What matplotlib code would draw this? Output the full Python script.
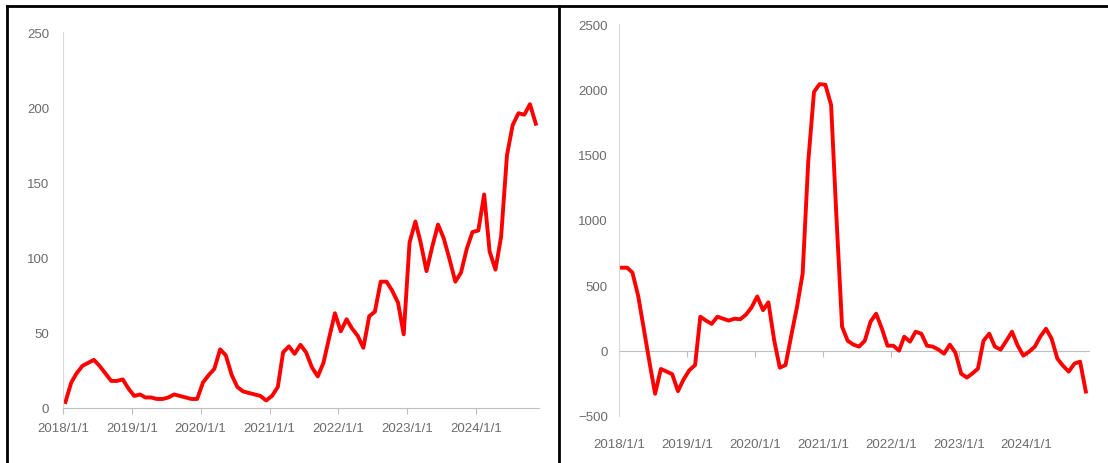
"""Two monthly red line charts side by side, Excel style."""

import pandas as pd
import matplotlib.pyplot as plt
from matplotlib.lines import Line2D
import matplotlib.dates as mdates

# left panel, monthly from 2018/1
left_values = [
    4, 17, 23, 28, 30, 32, 28, 23, 18, 18, 19, 13,
    8, 9, 7, 7, 6, 6, 7, 9, 8, 7, 6, 6,
    17, 22, 26, 39, 35, 22, 14, 11, 10, 9, 8, 5,
    8, 14, 37, 41, 36, 42, 37, 27, 21, 30, 47, 63,
    51, 59, 53, 48, 40, 61, 64, 84, 84, 78, 70, 49,
    110, 124, 110, 91, 107, 122, 113, 99, 84, 90, 106, 117,
    118, 142, 104, 92, 114, 168, 188, 196, 195, 202, 189,
]

# right panel, monthly from 2018/1
right_values = [
    635, 635, 598, 420, 170, -90, -330, -140, -160, -180, -310, -220,
    -150, -110, 260, 230, 205, 260, 245, 230, 245, 240, 275, 330,
    415, 310, 370, 80, -130, -110, 110, 330, 590, 1445, 1980, 2040,
    2035, 1880, 1040, 183, 76, 46, 31, 76, 222, 283, 168, 38,
    38, 0, 107, 69, 145, 130, 38, 31, 8, -23, 46, -15, -176, -206,
    -176, -138, 76, 130, 31, 8, 76, 145, 38, -38, -8, 31, 107, 168,
    92, -61, -115, -160, -99, -84, -313,
]

years = [2018, 2019, 2020, 2021, 2022, 2023, 2024]

W, H = 1108, 464
RED = '#ff0000'
GREY_TXT = '#6b6b6b'
GREY_AX = '#bfbfbf'

plt.rcParams['font.family'] = ['Liberation Sans', 'DejaVu Sans']
plt.rcParams['font.size'] = 9.5


def month_dates(n):
    # points sit in the middle of each month
    return pd.date_range('2018-01-01', periods=n, freq='MS') + pd.Timedelta(days=13)


def style_axis(ax, ypad):
    tick_dates = [pd.Timestamp(y, 1, 1) for y in years]
    ax.set_xticks(tick_dates)
    ax.set_xticklabels([f'{d.year}/{d.month}/{d.day}' for d in tick_dates])
    ax.set_xlim(pd.Timestamp(2018, 1, 1), pd.Timestamp(2024, 12, 1))
    for s in ('top', 'right'):
        ax.spines[s].set_visible(False)
    ax.spines['left'].set_color('#d9d9d9')
    ax.spines['bottom'].set_color(GREY_AX)
    ax.tick_params(axis='y', length=0, pad=ypad, colors=GREY_TXT)
    ax.tick_params(axis='x', length=4, width=0.8, color=GREY_AX,
                   pad=6, labelcolor=GREY_TXT)


fig = plt.figure(figsize=(W / 100, H / 100), dpi=100)

# left chart
ax1 = fig.add_axes([63 / W, 55 / H, 476 / W, 376 / H])
ax1.plot(month_dates(len(left_values)), left_values, color=RED, lw=2.8,
         solid_joinstyle='round')
ax1.set_ylim(0, 250)
ax1.set_yticks(range(0, 251, 50))
style_axis(ax1, ypad=10)

# right chart: ticks on the zero line, labels at the bottom
ax2 = fig.add_axes([619 / W, 47 / H, 470 / W, 392 / H])
ax2.plot(month_dates(len(right_values)), right_values, color=RED, lw=2.8,
         solid_joinstyle='round')
ax2.set_ylim(-500, 2500)
ax2.set_yticks(range(-500, 2501, 500))
style_axis(ax2, ypad=8)
ax2.spines['bottom'].set_visible(False)
ax2.tick_params(axis='x', length=0, pad=16)
zero_frac = 500 / 3000
sec = ax2.secondary_xaxis(zero_frac)
sec.set_xticks([pd.Timestamp(y, 1, 1) for y in years])
sec.tick_params(axis='x', length=4, width=0.8, color=GREY_AX, labelbottom=False)
sec.spines['bottom'].set_color(GREY_AX)
sec.xaxis.set_major_formatter(mdates.DateFormatter(''))

# black panel frames
frame = dict(color='black', lw=2, transform=fig.transFigure)
fig.add_artist(Line2D([7 / W, 1], [1 - 7 / H, 1 - 7 / H], **frame))
fig.add_artist(Line2D([7 / W, 7 / W], [0, 1 - 7 / H], **frame))
fig.add_artist(Line2D([559 / W, 559 / W], [0, 1 - 7 / H], **frame))

fig.savefig('out.png', dpi=100)
